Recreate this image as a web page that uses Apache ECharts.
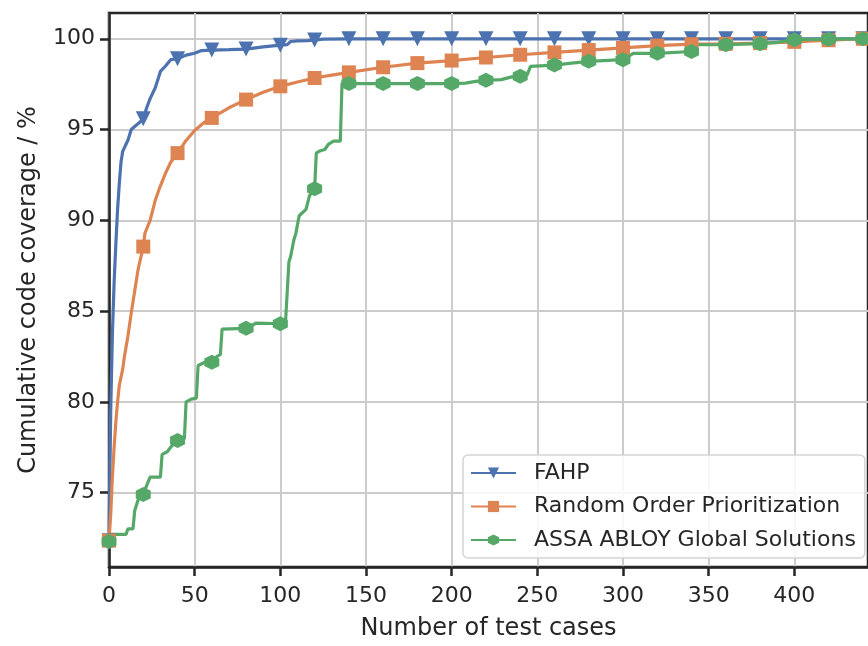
<!DOCTYPE html>
<html>
<head>
<meta charset="utf-8">
<script src="https://cdn.jsdelivr.net/npm/echarts@6/dist/echarts.min.js"></script>
<style>
html,body{margin:0;padding:0;background:#fff;}
#chart{width:868px;height:646px;}
</style>
</head>
<body>
<div id="chart"></div>
<script>
// ---- Data ----
const seriesNames = ["FAHP", "Random Order Prioritization", "ASSA ABLOY Global Solutions"];

const fahpX = [0,1,2,3,4,5,6,7,8,10,11,13,16,18,20,22,24,27,29,30,33,36,40,45,50,54,60,70,80,90,100,104,106,110,116,120,125,140,160,180,200,220,240,260,280,300,320,340,360,380,400,420,440];
const fahpY = [72.35,79.5,83.8,86.6,88.7,90.6,92.0,93.2,93.8,94.2,94.4,95.0,95.25,95.4,95.6,96.2,96.7,97.3,97.9,98.2,98.5,98.85,98.9,99.1,99.2,99.35,99.38,99.4,99.43,99.55,99.65,99.68,99.85,99.88,99.9,99.93,99.98,100,100,100,100,100,100,100,100,100,100,100,100,100,100,100,100];

const ropX = [0,1,2,3,4,5,6,8,9,11,13,15,17,20,21,24,27,30,33,36,40,45,50,55,60,70,80,90,100,110,120,130,140,160,180,200,220,240,260,280,300,320,340,360,380,400,420,440];
const ropY = [72.35,73.8,75.9,77.5,78.9,80.0,80.9,81.8,82.5,83.6,84.9,86.1,87.3,88.55,89.3,90.0,91.1,91.9,92.6,93.2,93.7,94.4,94.95,95.35,95.64,96.2,96.65,97.05,97.38,97.62,97.84,98.0,98.15,98.43,98.66,98.8,98.97,99.12,99.25,99.38,99.5,99.62,99.7,99.72,99.76,99.83,99.92,100];

const assaX = [0,1,10,11,14,15,17,20,22,24,30,31,34,36,40,44,45,48,51,52,56,60,63,65,66,80,86,100,103,105,106,108,109,111,115,117,120,121,123,126,128,131,135,136,140,160,180,200,208,214,220,229,235,240,244,246,260,270,280,300,306,320,340,343,360,380,390,400,420,440];
const assaY = [72.3,72.7,72.7,73.0,73.0,74.0,74.6,74.9,75.4,75.85,75.85,77.1,77.25,77.5,77.87,77.97,80.0,80.15,80.2,82.0,82.18,82.18,82.5,82.6,84.0,84.05,84.34,84.3,84.35,87.7,88.0,88.96,89.25,90.25,90.6,91.35,91.74,93.7,93.82,93.9,94.18,94.36,94.36,97.55,97.53,97.53,97.53,97.53,97.56,97.65,97.71,97.75,97.9,97.93,97.99,98.48,98.55,98.66,98.76,98.85,99.2,99.2,99.3,99.67,99.67,99.73,99.8,99.95,99.98,100];

const xTicks = [0,50,100,150,200,250,300,350,400];
const yTicks = [75,80,85,90,95,100];
const markerStep = 20;

// ---- Build chart ----
const colors = ['#4C72B0', '#DD8452', '#55A868'];
const hexagon = 'path://M0,-1 L0.866,-0.5 L0.866,0.5 L0,1 L-0.866,0.5 L-0.866,-0.5 Z';

function build(xs, ys) {
  return xs.map((x, i) => {
    const item = { value: [x, ys[i]] };
    if (x % markerStep !== 0) item.symbol = 'none';
    return item;
  });
}

const textColor = '#262626';
const font = 'DejaVu Sans';

const chart = echarts.init(document.getElementById('chart'), null, { renderer: 'canvas' });
chart.setOption({
  animation: false,
  backgroundColor: '#ffffff',
  color: colors,
  grid: {
    left: 109, top: 13, right: -3, bottom: 77,
    show: true, borderColor: textColor, borderWidth: 2.5, backgroundColor: 'transparent'
  },
  xAxis: {
    type: 'value', min: 0, max: 443, interval: 50,
    name: 'Number of test cases', nameLocation: 'middle', nameGap: 50,
    nameTextStyle: { fontFamily: font, fontSize: 24, color: textColor },
    axisLine: { show: true, onZero: false, lineStyle: { color: textColor, width: 2.5 } },
    axisTick: { show: true, length: 9, customValues: xTicks, lineStyle: { color: textColor, width: 2.5 } },
    axisLabel: { customValues: xTicks, margin: 18, fontFamily: font, fontSize: 22, color: textColor },
    splitLine: { show: true, lineStyle: { color: '#cccccc', width: 2 } }
  },
  yAxis: {
    type: 'value', min: 70.9, max: 101.42, splitNumber: 6,
    name: 'Cumulative code coverage / %', nameLocation: 'middle', nameGap: 68,
    nameTextStyle: { fontFamily: font, fontSize: 24, color: textColor },
    axisLine: { show: true, onZero: false, lineStyle: { color: textColor, width: 2.5 } },
    axisTick: { show: true, length: 9, customValues: yTicks, lineStyle: { color: textColor, width: 2.5 } },
    axisLabel: { customValues: yTicks, margin: 14, fontFamily: font, fontSize: 22, color: textColor },
    splitLine: { show: true, lineStyle: { color: '#cccccc', width: 2 } }
  },
  legend: {
    orient: 'vertical', left: 463, top: 455,
    padding: [6, 9, 6, 7],
    itemWidth: 45, itemHeight: 14, itemGap: 9.5,
    backgroundColor: 'rgba(255,255,255,0.85)',
    borderColor: '#d5d5d5', borderWidth: 1.5, borderRadius: 5,
    textStyle: { fontFamily: font, fontSize: 22, color: textColor, lineHeight: 24, padding: [0, 0, 0, 13] },
    data: seriesNames
  },
  series: [
    {
      name: seriesNames[0], type: 'line', data: build(fahpX, fahpY),
      symbol: 'triangle', symbolRotate: 180, symbolSize: 15, showAllSymbol: true,
      lineStyle: { width: 3.2, color: colors[0] }, itemStyle: { color: colors[0] }
    },
    {
      name: seriesNames[1], type: 'line', data: build(ropX, ropY),
      symbol: 'rect', symbolSize: 14, showAllSymbol: true,
      lineStyle: { width: 3.2, color: colors[1] }, itemStyle: { color: colors[1] }
    },
    {
      name: seriesNames[2], type: 'line', data: build(assaX, assaY),
      symbol: hexagon, symbolSize: 15, showAllSymbol: true,
      lineStyle: { width: 3.2, color: colors[2] }, itemStyle: { color: colors[2] }
    }
  ]
});
</script>
</body>
</html>
